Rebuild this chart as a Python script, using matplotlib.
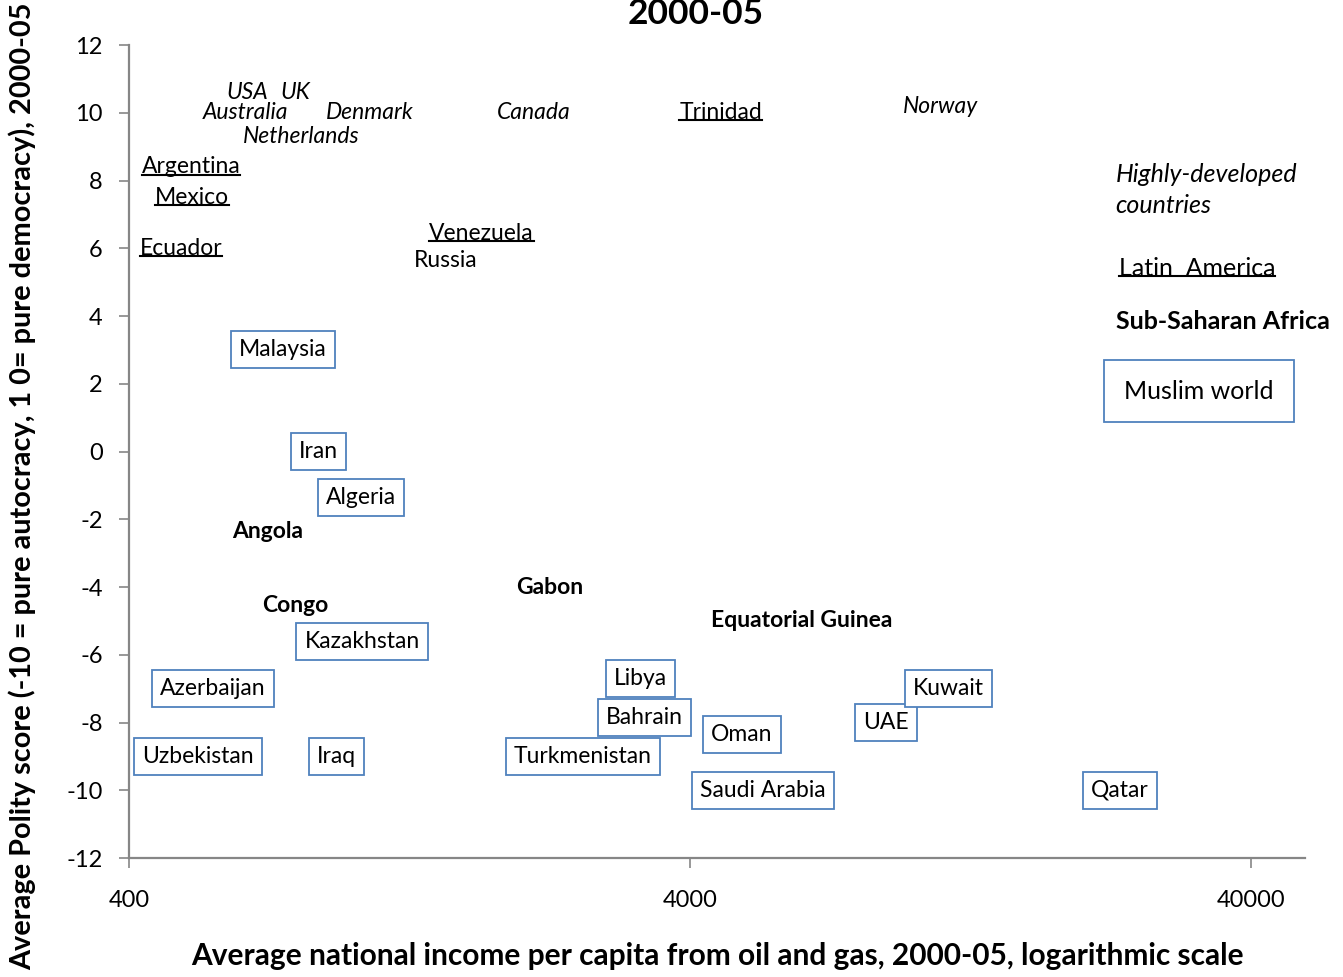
"""Oil income vs. Polity score, 2000-05 (labels as markers, log x)."""

import matplotlib
matplotlib.use("Agg")
import matplotlib.pyplot as plt
from matplotlib.lines import Line2D
from matplotlib.patches import Rectangle

plt.rcParams["font.family"] = ["Lato", "DejaVu Sans"]
plt.rcParams["axes.unicode_minus"] = False

# --- data (income per capita from oil & gas, Polity score) ---
dev_names = ["USA", "UK", "Australia", "Denmark", "Netherlands", "Canada", "Norway"]
dev_income = [650, 790, 645, 1075, 810, 2110, 11200]
dev_polity = [10.6, 10.6, 10.0, 10.0, 9.3, 10.0, 10.2]

lat_names = ["Trinidad", "Argentina", "Mexico", "Ecuador", "Venezuela"]
lat_income = [4540, 516, 518, 495, 1700]
lat_polity = [10.0, 8.4, 7.5, 6.0, 6.45]

other_names = ["Russia"]
other_income = [1465]
other_polity = [5.65]

afr_names = ["Angola", "Congo", "Gabon", "Equatorial Guinea"]
afr_income = [708, 790, 2250, 6330]
afr_polity = [-2.35, -4.55, -4.0, -5.0]

mus_names = ["Malaysia", "Iran", "Algeria", "Kazakhstan", "Azerbaijan", "Uzbekistan",
             "Iraq", "Turkmenistan", "Libya", "Bahrain", "Oman", "Saudi Arabia",
             "UAE", "Kuwait", "Qatar"]
mus_income = [753, 872, 1036, 1041, 564, 531, 939, 2580, 3270, 3325, 4950, 5400,
              8940, 11580, 23360]
mus_polity = [3.0, 0.0, -1.35, -5.6, -7.0, -9.0, -9.0, -9.0, -6.7, -7.85, -8.35,
              -10.0, -8.0, -7.0, -10.0]

x_ticks = [400, 4000, 40000]
y_ticks = list(range(-12, 13, 2))

BLUE = "#4F81BD"
GREY = "#868686"
FS = 16.5
LFS = 18

fig = plt.figure(figsize=(13.43, 9.77), dpi=100)
ax = fig.add_axes([0.0961, 0.1218, 0.8756, 0.8321])
ax.set_xscale("log")
ax.set_xlim(400, 50000)
ax.set_ylim(-12, 12)

underlined = []

for n, x, y in zip(dev_names, dev_income, dev_polity):
    ax.text(x, y, n, fontsize=FS, style="italic", ha="center", va="center")
for n, x, y in zip(lat_names, lat_income, lat_polity):
    underlined.append(ax.text(x, y, n, fontsize=FS, ha="center", va="center"))
for n, x, y in zip(other_names, other_income, other_polity):
    ax.text(x, y, n, fontsize=FS, ha="center", va="center")
for n, x, y in zip(afr_names, afr_income, afr_polity):
    ax.text(x, y, n, fontsize=FS, fontweight="bold", ha="center", va="center")
for n, x, y in zip(mus_names, mus_income, mus_polity):
    ax.text(x, y, n, fontsize=FS, ha="center", va="center",
            bbox=dict(boxstyle="square,pad=0.35", fc="white", ec=BLUE, lw=1.3))

# legend-like group labels on the right
ax.text(0.839, 0.8216, "Highly-developed\ncountries", transform=ax.transAxes,
        fontsize=LFS, style="italic", ha="left", va="center", linespacing=1.45)
underlined.append(ax.text(0.8418, 0.7257, "Latin  America", transform=ax.transAxes,
                          fontsize=LFS, ha="left", va="center"))
ax.text(0.839, 0.6605, "Sub-Saharan Africa", transform=ax.transAxes, fontsize=LFS,
        fontweight="bold", ha="left", va="center", clip_on=False)
ax.add_patch(Rectangle((0.829, 0.5363), 0.1616, 0.0762, transform=ax.transAxes,
                       fc="white", ec=BLUE, lw=1.3, clip_on=False))
ax.text(0.9099, 0.5744, "Muslim world", transform=ax.transAxes, fontsize=LFS,
        ha="center", va="center")

ax.set_xticks(x_ticks)
ax.set_xticklabels([str(v) for v in x_ticks])
ax.xaxis.set_minor_locator(matplotlib.ticker.NullLocator())
ax.set_yticks(y_ticks)
ax.set_yticklabels([str(v) for v in y_ticks])
ax.tick_params(axis="both", direction="out", length=7, width=1.2, color=GREY,
               labelsize=17)
ax.tick_params(axis="x", pad=16)
ax.tick_params(axis="y", pad=12)
for s in ("top", "right"):
    ax.spines[s].set_visible(False)
for s in ("left", "bottom"):
    ax.spines[s].set_color(GREY)
    ax.spines[s].set_linewidth(1.6)

fig.text(717 / 1343, 1 - 956 / 977,
         "Average national income per capita from oil and gas, 2000-05, logarithmic scale",
         fontsize=21.5, fontweight="bold", ha="center", va="center")
fig.text(22 / 1343, 1 - 3 / 977,
         "Average Polity score (-10 = pure autocracy, 1 0= pure democracy), 2000-05",
         fontsize=20.8, fontweight="bold", rotation=90, ha="center", va="top")
fig.text(696 / 1343, 1 - 24 / 977, "2000-05", fontsize=25.5, fontweight="bold",
         ha="center", va="baseline")

# underline the Latin American labels
fig.canvas.draw()
renderer = fig.canvas.get_renderer()
inv = fig.transFigure.inverted()
for t in underlined:
    bb = t.get_window_extent(renderer)
    fs_px = t.get_fontsize() * fig.dpi / 72
    yline = bb.y0 + 0.13 * fs_px
    (x0, y0), (x1, _) = inv.transform([(bb.x0, yline), (bb.x1, yline)])
    fig.add_artist(Line2D([x0, x1], [y0, y0], color="black", lw=1.5,
                          transform=fig.transFigure))

fig.savefig("out.png", dpi=100)
